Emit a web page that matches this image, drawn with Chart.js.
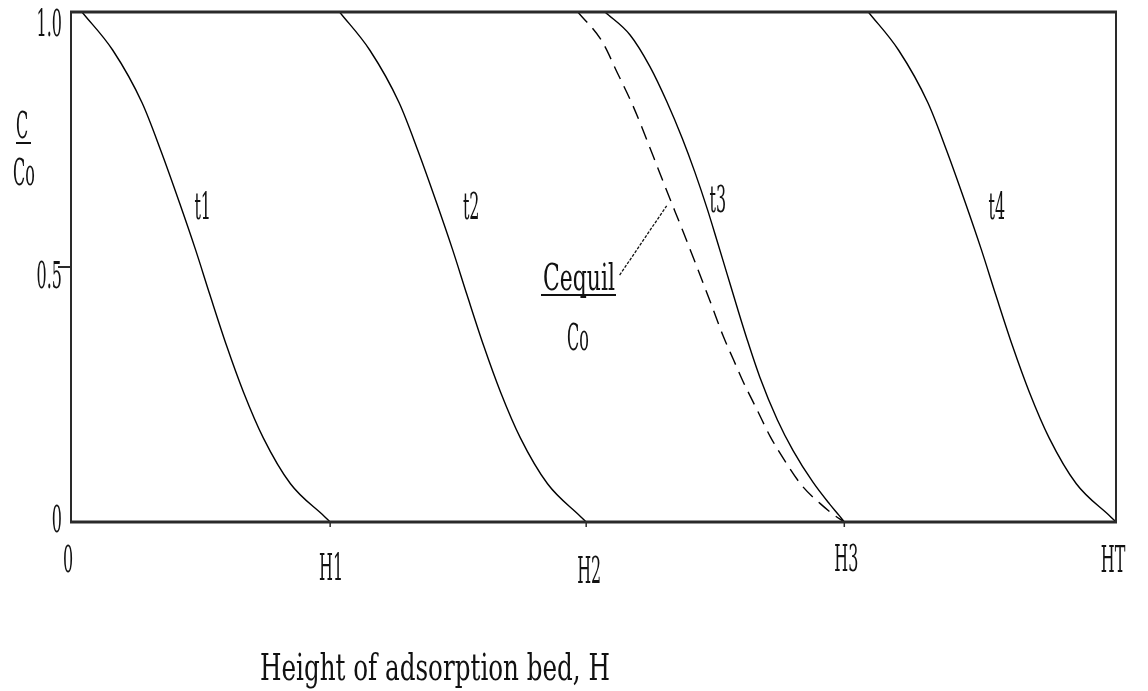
<!DOCTYPE html>
<html>
<head>
<meta charset="utf-8">
<script src="https://cdn.jsdelivr.net/npm/chart.js@4/dist/chart.umd.min.js"></script>
<style>
  html, body { margin: 0; padding: 0; background: #ffffff; }
  #wrap { width: 1148px; height: 691px; }
</style>
</head>
<body>
<div id="wrap"><canvas id="c" width="1148" height="691"></canvas></div>
<script>
// ---- data ----
const xTickLabels = ['0', 'H1', 'H2', 'H3', 'HT'];
const xTickValues = [0, 24.8, 49.3, 74.0, 100];
const yTickLabels = ['0', '0.5', '1.0'];
const yTickValues = [0, 0.5, 1.0];

const t1X = [1.05, 4.0, 6.8, 8.6, 10.4, 11.9, 13.3, 14.9, 16.5, 18.4, 21.0, 24.3, 24.8];
const t1Y = [1.0, 0.925, 0.822, 0.728, 0.625, 0.535, 0.445, 0.345, 0.255, 0.165, 0.075, 0.010, 0];

const t2X = [25.7, 28.6, 31.4, 33.2, 35.0, 36.5, 37.9, 39.5, 41.1, 43.0, 45.6, 48.8, 49.3];
const t2Y = [1.0, 0.925, 0.822, 0.728, 0.625, 0.535, 0.445, 0.345, 0.255, 0.165, 0.075, 0.010, 0];

const t3X = [51.1, 53.5, 55.4, 57.0, 58.5, 59.7, 60.9, 61.8, 62.8, 63.7, 64.7, 65.9, 67.6, 69.1, 71.0, 72.6, 73.5, 74.0];
const t3Y = [1.0, 0.955, 0.893, 0.825, 0.752, 0.686, 0.613, 0.553, 0.485, 0.424, 0.358, 0.285, 0.200, 0.140, 0.078, 0.035, 0.013, 0];

const t4X = [76.3, 79.2, 82.0, 83.8, 85.6, 87.1, 88.5, 90.1, 91.7, 93.6, 96.2, 99.5, 100];
const t4Y = [1.0, 0.925, 0.822, 0.728, 0.625, 0.535, 0.445, 0.345, 0.255, 0.165, 0.075, 0.010, 0];

const cequilX = [48.5, 50.8, 52.3, 53.8, 55.7, 57.0, 58.6, 59.9, 61.3, 62.4, 63.4, 64.3, 65.7, 66.9, 68.5, 70.0, 71.7, 73.0, 74.0];
const cequilY = [1.0, 0.943, 0.880, 0.815, 0.718, 0.650, 0.568, 0.500, 0.425, 0.365, 0.318, 0.276, 0.218, 0.168, 0.114, 0.070, 0.036, 0.014, 0];

const curveLabels = ['t1', 't2', 't3', 't4'];
const curveLabelX = [12.6, 38.3, 61.9, 88.6];
const curveLabelY = [0.617, 0.617, 0.632, 0.617];

const leaderX = [52.5, 57.0];
const leaderY = [0.484, 0.620];

// ---- helpers ----
const pts = (xs, ys) => xs.map((x, i) => ({ x: x, y: ys[i] }));
const FONT = '"DejaVu Serif", "Liberation Serif", serif';
const INK = '#111111';

function drawText(ctx, str, x, y, opt) {
  opt = opt || {};
  const size = opt.size || 38;
  ctx.save();
  ctx.font = size + 'px ' + FONT;
  const w = ctx.measureText(str).width;
  const s = opt.width ? opt.width / w : (opt.sx || 0.42);
  ctx.translate(x, y);
  ctx.scale(s, 1);
  ctx.textAlign = opt.align || 'center';
  ctx.textBaseline = 'alphabetic';
  ctx.fillStyle = INK;
  ctx.fillText(str, 0, 0);
  ctx.restore();
}
function line(ctx, x1, y1, x2, y2, w, color) {
  ctx.save();
  ctx.beginPath();
  ctx.moveTo(x1, y1);
  ctx.lineTo(x2, y2);
  ctx.lineWidth = w;
  ctx.strokeStyle = color || INK;
  ctx.stroke();
  ctx.restore();
}

const decorPlugin = {
  id: 'decor',
  afterDatasetsDraw(chart) {
    const ctx = chart.ctx;
    const a = chart.chartArea;
    const xs = chart.scales.x, ys = chart.scales.y;

    // frame
    line(ctx, a.left - 1, a.top, a.right + 1, a.top, 3, '#2a2a2a');
    line(ctx, a.left - 1, a.bottom, a.right + 1, a.bottom, 3, '#2a2a2a');
    line(ctx, a.left, a.top, a.left, a.bottom, 2, '#2a2a2a');
    line(ctx, a.right, a.top, a.right, a.bottom, 2, '#2a2a2a');

    // y ticks + labels
    const yBase = [10, 21, 24];
    yTickValues.forEach((v, i) => {
      const py = ys.getPixelForValue(v);
      if (v > 0 && v < 1) line(ctx, a.left - 13, py, a.left, py, 2, '#2a2a2a');
      drawText(ctx, yTickLabels[i], a.left - 9, py + yBase[i], { align: 'right' });
    });

    // x ticks + labels
    const xLabelBase = [50, 58, 61, 49, 50];
    const xLabelShift = [-3, 1, 3, 2, -3];
    xTickValues.forEach((v, i) => {
      const px = xs.getPixelForValue(v);
      if (v > 0 && v < 100) line(ctx, px, a.bottom, px, a.bottom + 5, 1.5, '#2a2a2a');
      drawText(ctx, xTickLabels[i], px + xLabelShift[i], a.bottom + xLabelBase[i], {});
    });

    // axis titles
    drawText(ctx, 'Height of adsorption bed, H', 435, 680, { width: 350 });
    drawText(ctx, 'C', 22, 138, {});
    line(ctx, 16, 143, 31, 143, 2);
    drawText(ctx, 'Co', 24, 185, {});

    // curve labels
    curveLabels.forEach((s, i) => {
      drawText(ctx, s, xs.getPixelForValue(curveLabelX[i]), ys.getPixelForValue(curveLabelY[i]) + 12, {});
    });

    // Cequil / Co annotation with leader
    drawText(ctx, 'Cequil', 579, 290, { width: 72 });
    line(ctx, 541, 295, 616, 295, 2);
    drawText(ctx, 'Co', 578, 350, {});
    ctx.save();
    ctx.setLineDash([3, 1.5]);
    line(ctx, xs.getPixelForValue(leaderX[0]), ys.getPixelForValue(leaderY[0]),
              xs.getPixelForValue(leaderX[1]), ys.getPixelForValue(leaderY[1]), 1.3);
    ctx.restore();
  }
};

const solid = (label, d) => ({
  label: label, data: d, borderColor: '#000', borderWidth: 1.4,
  pointRadius: 0, fill: false, cubicInterpolationMode: 'monotone'
});

new Chart(document.getElementById('c'), {
  type: 'line',
  data: {
    datasets: [
      solid('t1', pts(t1X, t1Y)),
      solid('t2', pts(t2X, t2Y)),
      solid('t3', pts(t3X, t3Y)),
      solid('t4', pts(t4X, t4Y)),
      Object.assign(solid('Cequil/Co', pts(cequilX, cequilY)), { borderDash: [14, 8] })
    ]
  },
  options: {
    responsive: false,
    animation: false,
    events: [],
    layout: { padding: { left: 71, top: 12, right: 32, bottom: 169 } },
    plugins: { legend: { display: false }, tooltip: { enabled: false } },
    scales: {
      x: { type: 'linear', min: 0, max: 100, display: false },
      y: { type: 'linear', min: 0, max: 1, display: false }
    }
  },
  plugins: [decorPlugin]
});
</script>
</body>
</html>
